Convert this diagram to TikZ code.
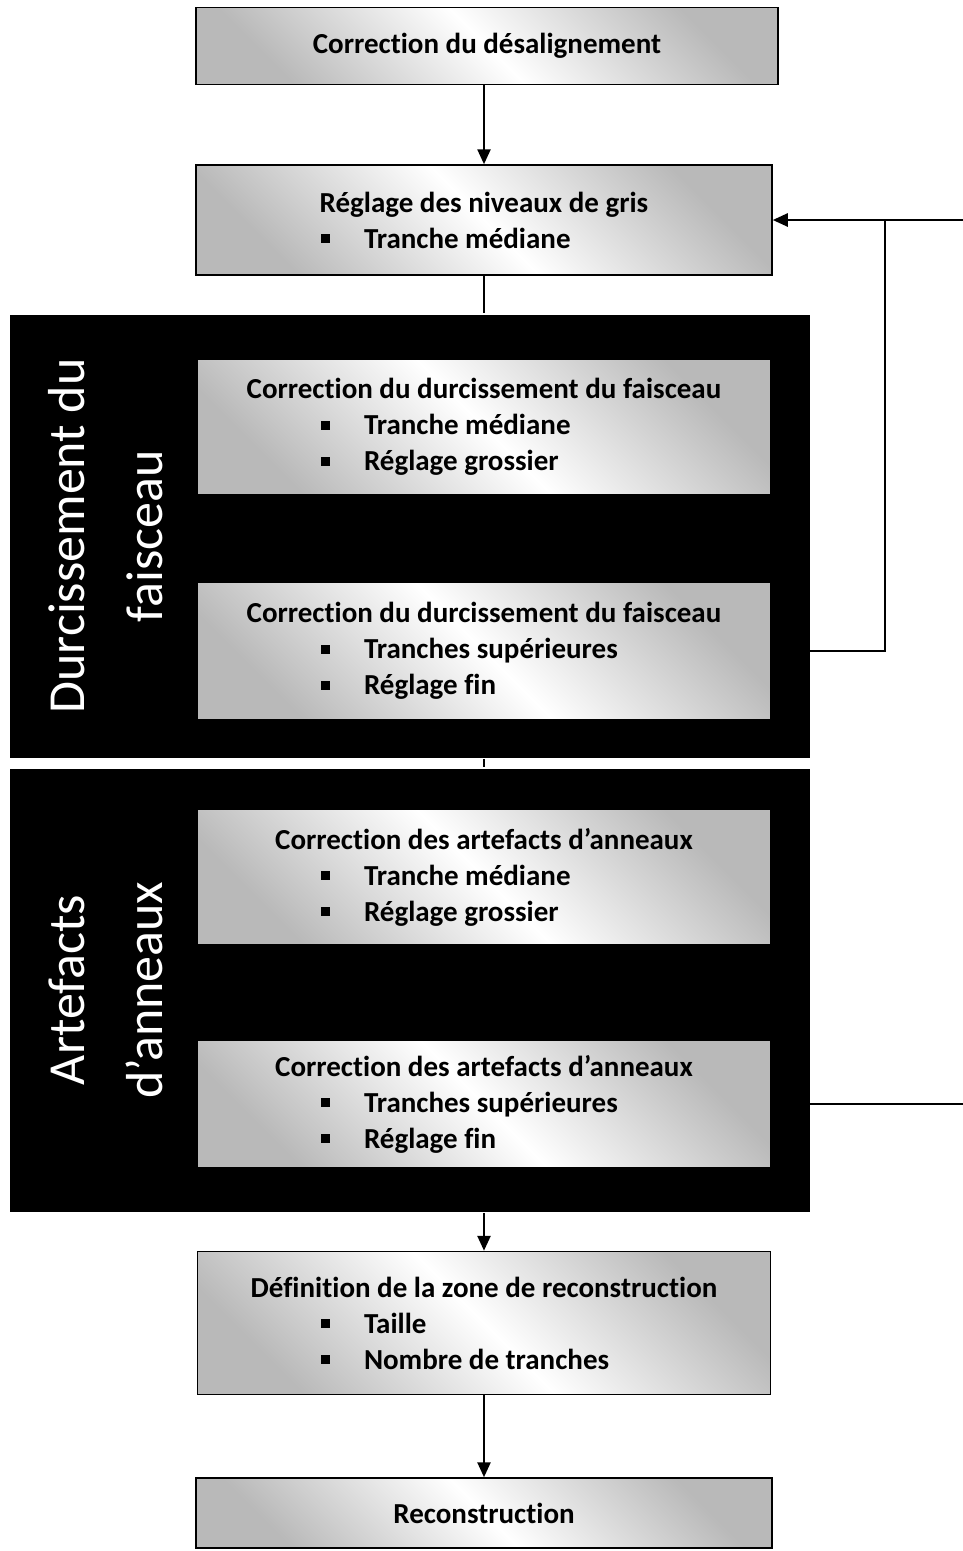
\documentclass[tikz,border=0pt]{standalone}
\usepackage{fontspec}
\setmainfont{Carlito}[Ligatures=NoCommon]
\usetikzlibrary{arrows.meta,positioning,calc}

\newcommand{\puce}[1]{\makebox[326pt][l]{\raisebox{5pt}{\rule{9pt}{9pt}}\hspace{34pt}#1}}

\begin{document}
\begin{tikzpicture}[
        x=1pt, y=1pt,
        ->,>={Triangle[length=15pt,width=13pt]}, line width=2.5pt
    ]

    \tikzstyle{etape} = [rectangle, draw, line width=1.5pt, minimum width=576pt,
        left color=gray!55, right color=gray!55, middle color=white, shading angle=-45,
        align=center, font=\fontsize{29}{36}\selectfont\bfseries]
    \tikzstyle{bloc} = [rectangle, fill=black, minimum width=800pt, minimum height=443pt]
    \tikzstyle{titre} = [rotate=90, text=white, align=center,
        font=\fontsize{52}{78}\selectfont]

    \useasboundingbox (0,0) rectangle (963,-1551);

    % les deux blocs noirs
    \node[bloc] (durc) at (410,-536) {};
    \node[titre] at (106,-536) {Durcissement du\\faisceau};
    \node[bloc] (anneaux) at (410,-990) {};
    \node[titre] at (106,-990) {Artefacts\\d’anneaux};

    \node[etape, minimum width=582pt, minimum height=77pt] (desal) at (487,-46) {Correction du désalignement};
    \node[etape, minimum height=110pt] (gris) [below of=desal, node distance=174pt, xshift=-3pt]
        {Réglage des niveaux de gris\\\puce{Tranche médiane}};
    \node[etape, minimum width=573pt, minimum height=135pt] (durcA) [below of=gris, node distance=207pt]
        {Correction du durcissement du faisceau\\\puce{Tranche médiane}\\\puce{Réglage grossier}};
    \node[etape, minimum width=573pt, minimum height=137pt] (durcB) [below of=durcA, node distance=224pt]
        {Correction du durcissement du faisceau\\\puce{Tranches supérieures}\\\puce{Réglage fin}};
    \node[etape, minimum width=573pt, minimum height=135pt] (annA) [below of=durcB, node distance=226pt]
        {Correction des artefacts d’anneaux\\\puce{Tranche médiane}\\\puce{Réglage grossier}};
    \node[etape, minimum width=573pt, minimum height=128pt] (annB) [below of=annA, node distance=227pt]
        {Correction des artefacts d’anneaux\\\puce{Tranches supérieures}\\\puce{Réglage fin}};
    \node[etape, minimum width=573pt, minimum height=143pt] (zone) [below of=annB, node distance=219pt]
        {Définition de la zone de reconstruction\\\puce{Taille}\\\puce{Nombre de tranches}};
    \node[etape, minimum height=70pt] (recon) [below of=zone, node distance=190pt] {Reconstruction};

    \coordinate (coude) at (885,-220);
    \coordinate (sortieH) at (963,-220);

    \path[]
        (gris |- desal.south) edge (gris)
        (gris) edge[-] (gris |- durc.north)
        (durcB |- durc.south) edge[-] (durcB |- anneaux.north)
        (annB |- anneaux.south) edge (zone)
        (zone) edge (recon)
        (coude) edge (gris.east)
        (coude) edge[-] (sortieH)
        (annB.east) edge[-] (annB.east -| sortieH)
    ;
    \draw[-] (durcB.east) -| (coude);

\end{tikzpicture}
\end{document}
